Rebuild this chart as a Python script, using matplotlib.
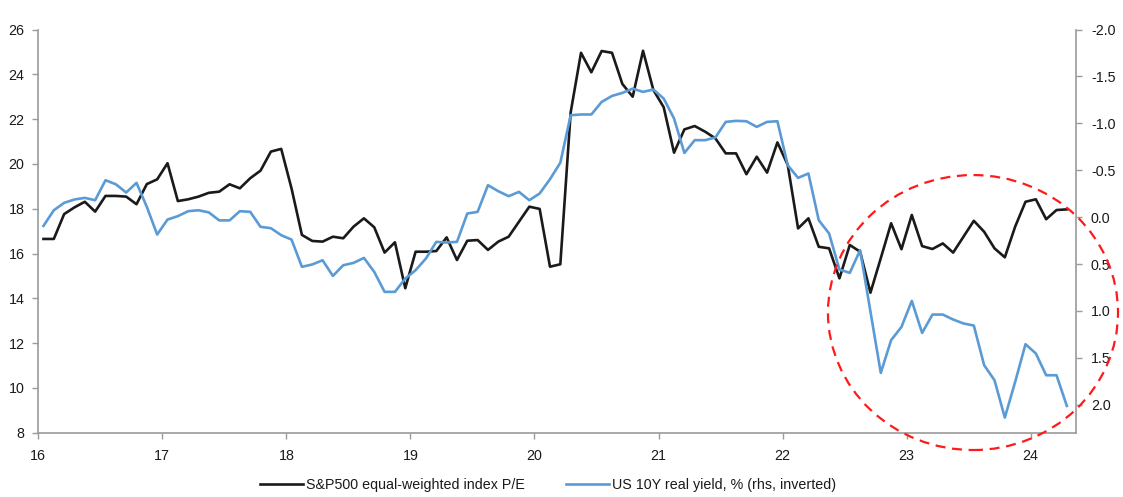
import matplotlib
matplotlib.use("Agg")
import matplotlib.pyplot as plt
from matplotlib.patches import Ellipse
import numpy as np

plt.rcParams['font.family'] = ['Liberation Sans', 'DejaVu Sans']

# Monthly data, Jan 2016 - Apr 2024
pe_values = [
    16.65, 16.65, 17.76, 18.06, 18.31, 17.87, 18.57, 18.57, 18.54, 18.20, 19.10, 19.31, 20.03, 18.34, 18.42, 18.54, 18.71,
    18.76, 19.09, 18.91, 19.36, 19.70, 20.55, 20.67, 18.90, 16.83, 16.56, 16.53, 16.75, 16.68, 17.20, 17.57, 17.17, 16.04,
    16.50, 14.45, 16.08, 16.08, 16.11, 16.72, 15.71, 16.57, 16.60, 16.16, 16.53, 16.75, 17.42, 18.09, 17.99, 15.41, 15.52,
    22.30, 24.96, 24.09, 25.04, 24.96, 23.57, 23.00, 25.05, 23.30, 22.53, 20.50, 21.54, 21.69, 21.44, 21.14, 20.47, 20.47,
    19.54, 20.32, 19.61, 20.96, 19.95, 17.12, 17.57, 16.30, 16.23, 14.89, 16.38, 16.08, 14.25, 15.79, 17.35, 16.19, 17.72,
    16.33, 16.20, 16.45, 16.04, 16.75, 17.46, 16.97, 16.23, 15.83, 17.20, 18.31, 18.42, 17.53, 17.94, 17.97,
]
real_yield = [
    0.094, -0.073, -0.152, -0.188, -0.205, -0.180, -0.393, -0.350, -0.262, -0.365, -0.109, 0.186, 0.026, -0.010, -0.063, -0.073, -0.050,
    0.035, 0.035, -0.063, -0.056, 0.104, 0.118, 0.193, 0.240, 0.530, 0.505, 0.460, 0.627, 0.513, 0.488, 0.435, 0.584, 0.797,
    0.797, 0.655, 0.566, 0.441, 0.264, 0.271, 0.264, -0.038, -0.056, -0.340, -0.276, -0.223, -0.269, -0.180, -0.252, -0.404, -0.580,
    -1.086, -1.094, -1.094, -1.228, -1.292, -1.324, -1.370, -1.335, -1.360, -1.264, -1.051, -0.684, -0.820, -0.820, -0.849, -1.015, -1.026,
    -1.022, -0.962, -1.015, -1.022, -0.553, -0.418, -0.465, 0.033, 0.175, 0.559, 0.595, 0.353, 1.007, 1.661, 1.312, 1.171, 0.893,
    1.235, 1.039, 1.039, 1.092, 1.134, 1.156, 1.579, 1.739, 2.137, 1.757, 1.355, 1.454, 1.686, 1.686, 2.013,
]
x_ticks = [16, 17, 18, 19, 20, 21, 22, 23, 24]
left_ticks = [8, 10, 12, 14, 16, 18, 20, 22, 24, 26]
right_ticks = [-2.0, -1.5, -1.0, -0.5, 0.0, 0.5, 1.0, 1.5, 2.0]
label_pe = "S&P500 equal-weighted index P/E"
label_ry = "US 10Y real yield, % (rhs, inverted)"

n = len(pe_values)
x = 16 + (np.arange(n) + 0.5) / 12.0

W, H = 1123, 497
fig = plt.figure(figsize=(W / 100, H / 100), dpi=100)
left, right, top, bottom = 38.3, 1075.7, 29.5, 432.7
ax = fig.add_axes([left / W, 1 - bottom / H, (right - left) / W, (bottom - top) / H])
ax2 = ax.twinx()

spine_col = '#9a9a9a'
txt_col = '#1a1a1a'
fs = 10.3

l1, = ax.plot(x, pe_values, color='#1a1a1a', lw=1.9, label=label_pe, zorder=3)
l2, = ax2.plot(x, real_yield, color='#5b9bd5', lw=1.9, label=label_ry, zorder=2)

ax.set_xlim(16, 24.363)
ax.set_ylim(8, 26)
ax2.set_ylim(2.2985, -2.0)

ax.set_xticks(x_ticks)
ax.set_xticklabels([str(t) for t in x_ticks])
ax.set_yticks(left_ticks)
ax.set_yticklabels([str(t) for t in left_ticks])
ax2.set_yticks(right_ticks)
ax2.set_yticklabels([f"{t:.1f}" for t in right_ticks])

for a in (ax, ax2):
    a.spines['top'].set_visible(False)
    for s in ('left', 'right', 'bottom'):
        a.spines[s].set_color(spine_col)
        a.spines[s].set_linewidth(1.2)
ax.spines['right'].set_visible(False)
ax2.spines['left'].set_visible(False)
ax2.spines['bottom'].set_visible(False)

ax.tick_params(axis='y', direction='out', length=4, width=1, color=spine_col,
               labelsize=fs, labelcolor=txt_col, pad=6)
ax.tick_params(axis='x', direction='out', length=4, width=1, color=spine_col,
               labelsize=fs, labelcolor=txt_col, pad=8)
ax2.tick_params(axis='y', direction='out', length=4, width=1, color=spine_col,
                labelsize=fs, labelcolor=txt_col, pad=7)

# Red dashed highlight ellipse (in axes fraction coordinates)
ell = Ellipse((0.901, 0.298), width=0.2796, height=0.682, transform=ax2.transAxes,
              fill=False, edgecolor='#ff1a1a', lw=1.6, linestyle=(0, (4.5, 3)),
              clip_on=False, zorder=5)
ax2.add_patch(ell)

fig.legend([l1, l2], [label_pe, label_ry], loc='center', ncol=2, frameon=False,
           bbox_to_anchor=(0.488, 1 - 485 / H), fontsize=fs, handlelength=3.0,
           handletextpad=0.2, columnspacing=2.9, labelcolor=txt_col)

fig.savefig("out.png", dpi=100)
